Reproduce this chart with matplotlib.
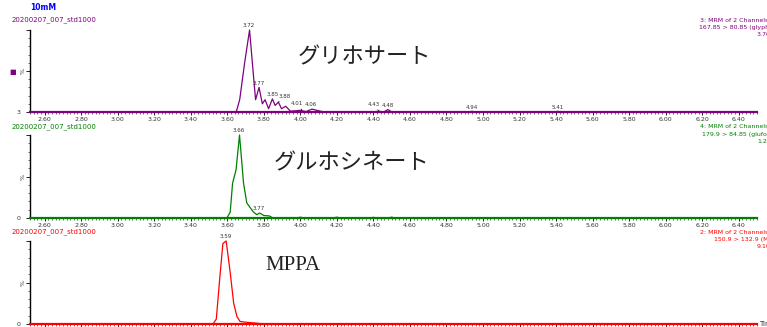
import matplotlib.pyplot as plt
import numpy as np
from matplotlib.ticker import MultipleLocator, FixedLocator

W, H = 767, 327

# ---------- chromatogram data (time in min, relative intensity %) ----------
glyph_t = [2.52, 3.649, 3.668, 3.695, 3.722, 3.745, 3.755, 3.774, 3.792, 3.807,
           3.826, 3.847, 3.862, 3.880, 3.897, 3.920, 3.946, 3.975, 4.00, 4.03,
           4.064, 4.09, 4.13, 4.40, 4.43, 4.45, 4.46, 4.48, 4.50, 4.92, 4.94,
           4.96, 5.39, 5.41, 5.43, 6.50]
glyph_i = [0, 0, 15, 60, 100, 40, 15, 30, 10, 15,
           4, 16, 8, 12, 4, 7, 1, 1.5, 2, 0.5,
           3.5, 2, 0, 0, 1, 0, 0.5, 3, 0, 0, 0.8,
           0, 0, 0.8, 0, 0]
glyph_peaks = [3.72, 3.77, 3.85, 3.88, 4.01, 4.06, 4.43, 4.48, 4.94, 5.41]

gluf_t = [2.52, 3.598, 3.616, 3.629, 3.648, 3.667, 3.689, 3.707, 3.744, 3.762,
          3.777, 3.80, 3.83, 3.85, 3.98, 4.00, 4.02, 4.18, 4.20, 4.22, 4.38,
          4.40, 4.42, 4.48, 4.50, 4.52, 4.92, 4.94, 4.96, 6.50]
gluf_i = [0, 0, 7, 42, 58, 100, 42, 18, 7, 4,
          6, 3, 2.5, 0, 0, 1, 0, 0, 1, 0, 0,
          0.8, 0, 0, 1, 0, 0, 0.6, 0, 0]
gluf_peaks = [3.66, 3.77]

mppa_t = [2.52, 3.522, 3.540, 3.558, 3.576, 3.594, 3.616, 3.635, 3.653, 3.67,
          3.71, 3.76, 3.80, 6.50]
mppa_i = [0, 0, 6, 53, 97, 100, 62, 25, 9, 3, 2, 1, 0, 0]
mppa_peaks = [3.59]

names = ["グリホサート", "グルホシネート", "MPPA"]
colors = ["#800080", "#008000", "#ff0000"]
sample = "20200207_007_std1000"
channel_lines = [
    ["3: MRM of 2 Channels ES-", "167.85 > 80.85 (glyphosate)", "3.76e6"],
    ["4: MRM of 2 Channels ES-", "179.9 > 84.85 (glufosinate)", "1.22e6"],
    ["2: MRM of 2 Channels ES-", "150.9 > 132.9 (MPPA)", "9.10e6"],
]
zero_labels = ["3", "0", "0"]
xticks = np.arange(2.6, 6.41, 0.2)

traces = [(glyph_t, glyph_i, glyph_peaks),
          (gluf_t, gluf_i, gluf_peaks),
          (mppa_t, mppa_i, mppa_peaks)]

# label nudges (points) for crowded peak labels, with a leader line
nudge = {3.88: (4.5, 2.5), 4.01: (-3.5, 3.0), 4.43: (-4.0, 3.0)}

fig = plt.figure(figsize=(W / 100, H / 100), dpi=100)


def fx(px):
    return px / W


def fy(py):
    return 1 - py / H


# panel extents in pixels: (top, bottom)
panels = [(30, 112), (135, 218), (241, 324)]
label_y = [20, 127, 232]
info_x = [[700, 699, 757], [700, 702, 757], [700, 714, 757]]
name_pos = [(364, 57), (352, 163), (293, 266)]
left, right = 30, 757

fig.text(fx(30), fy(8), "10mM", color="#0000ff", fontsize=5.5,
         fontweight="bold", va="center")

for k, ((t, inten, peaks), (top, bot)) in enumerate(zip(traces, panels)):
    col = colors[k]
    ax = fig.add_axes([fx(left), fy(bot), fx(right - left), (bot - top) / H])
    ax.plot(t, inten, color=col, linewidth=0.9, zorder=3, clip_on=False)
    ax.set_xlim(2.52, 6.50)
    ax.set_ylim(0, 100)

    for s in ["top", "right"]:
        ax.spines[s].set_visible(False)
    ax.spines["left"].set_linewidth(1.0)
    ax.spines["bottom"].set_color(col)
    ax.spines["bottom"].set_linewidth(1.6)

    ax.xaxis.set_major_locator(FixedLocator(xticks))
    ax.xaxis.set_minor_locator(MultipleLocator(0.02))
    if k < 2:
        ax.set_xticklabels([f"{v:.2f}" for v in xticks])
    else:
        # bottom panel's labels fall below the picture in the original
        ax.set_xticklabels([])
    ax.tick_params(axis="x", which="major", length=2.5, width=0.6,
                   labelsize=4.5, pad=0.8, colors="black", labelcolor="#333333")
    ax.tick_params(axis="x", which="minor", length=1.5, width=0.4)

    ax.yaxis.set_major_locator(FixedLocator([0, 50, 100]))
    ax.yaxis.set_minor_locator(MultipleLocator(10))
    ax.set_yticklabels([zero_labels[k], "", ""])
    ax.tick_params(axis="y", which="major", length=3, width=0.6,
                   labelsize=4.5, pad=4, labelcolor="#333333")
    ax.tick_params(axis="y", which="minor", length=1.5, width=0.4)
    ax.text(-0.006, 0.5, "%", transform=ax.transAxes, rotation=90,
            fontsize=4.5, ha="right", va="center", color="#333333")

    # peak labels, placed above the local apex
    tt = np.asarray(t)
    for rt in peaks:
        win = np.linspace(rt - 0.012, rt + 0.012, 25)
        h = np.interp(win, tt, inten).max()
        if rt in nudge:
            ax.annotate(f"{rt:.2f}", (rt, h), xytext=nudge[rt],
                        textcoords="offset points", ha="center", va="bottom",
                        fontsize=4, color="#333333", annotation_clip=False,
                        arrowprops=dict(arrowstyle="-", color="black",
                                        linewidth=0.5, shrinkA=0, shrinkB=0))
        else:
            ax.annotate(f"{rt:.2f}", (rt, h), xytext=(0, 1.2),
                        textcoords="offset points", ha="center", va="bottom",
                        fontsize=4, color="#333333", annotation_clip=False)

    # sample name and channel info
    fig.text(fx(12), fy(label_y[k]), sample, color=col, fontsize=5,
             va="center")
    for j, line in enumerate(channel_lines[k]):
        fig.text(fx(info_x[k][j]), fy(label_y[k] + 7 * j), line, color=col,
                 fontsize=4.5, va="center")

    nx, ny = name_pos[k]
    if k < 2:
        fig.text(fx(nx), fy(ny), names[k], fontsize=16, ha="center",
                 va="center", color="#222222",
                 family=["Noto Sans CJK JP", "DejaVu Sans"])
    else:
        fig.text(fx(nx), fy(ny), names[k], fontsize=15, ha="center",
                 va="center", color="#222222", family="Liberation Serif")

# legend-like square marker and time label
fig.text(fx(13), fy(72), "■", color="#800080", fontsize=5, ha="center",
         va="center")
fig.text(fx(759), fy(324), "Time", fontsize=5, va="center", color="#333333")

fig.savefig("out.png", dpi=100)
